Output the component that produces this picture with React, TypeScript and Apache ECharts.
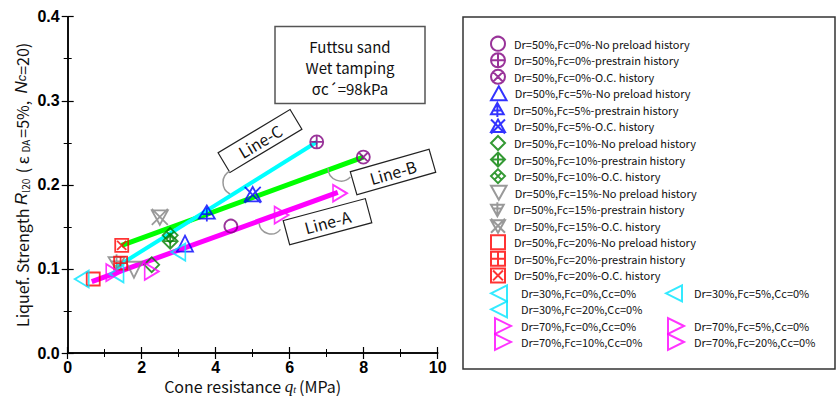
import React, { useEffect, useRef } from "react";
import * as echarts from "echarts";

// ---- data ----
const dr50Names = [
  "Dr=50%,Fc=0%-No preload history",
  "Dr=50%,Fc=0%-prestrain history",
  "Dr=50%,Fc=0%-O.C. history",
  "Dr=50%,Fc=5%-No preload history",
  "Dr=50%,Fc=5%-prestrain history",
  "Dr=50%,Fc=5%-O.C. history",
  "Dr=50%,Fc=10%-No preload history",
  "Dr=50%,Fc=10%-prestrain history",
  "Dr=50%,Fc=10%-O.C. history",
  "Dr=50%,Fc=15%-No preload history",
  "Dr=50%,Fc=15%-prestrain history",
  "Dr=50%,Fc=15%-O.C. history",
  "Dr=50%,Fc=20%-No preload history",
  "Dr=50%,Fc=20%-prestrain history",
  "Dr=50%,Fc=20%-O.C. history",
];
const dr50Qt = [4.41, 6.73, 7.99, 3.17, 3.76, 5.0, 2.27, 2.77, 2.77, 1.79, 1.32, 2.49, 0.69, 1.43, 1.46];
const dr50RL = [0.151, 0.251, 0.233, 0.13, 0.166, 0.188, 0.105, 0.133, 0.14, 0.099, 0.108, 0.162, 0.088, 0.107, 0.128];

const dr30Names = ["Dr=30%,Fc=0%,Cc=0%", "Dr=30%,Fc=5%,Cc=0%", "Dr=30%,Fc=20%,Cc=0%"];
const dr30Qt = [2.99, 1.32, 0.38];
const dr30RL = [0.12, 0.094, 0.088];

const dr70Names = ["Dr=70%,Fc=0%,Cc=0%", "Dr=70%,Fc=5%,Cc=0%", "Dr=70%,Fc=10%,Cc=0%", "Dr=70%,Fc=20%,Cc=0%"];
const dr70Qt = [7.36, 5.78, 2.27, 1.23];
const dr70RL = [0.19, 0.164, 0.097, 0.0955];

// regression lines [[x0, y0], [x1, y1]]
const lineA = [[0.65, 0.085], [7.3, 0.191]];
const lineB = [[1.46, 0.128], [7.99, 0.233]];
const lineC = [[1.3, 0.102], [6.73, 0.251]];

const xMin = 0, xMax = 10, xStep = 2;
const yMin = 0, yMax = 0.4, yStep = 0.1;

// ---- symbols ----
const CIRC = "M-1,0 A1,1 0 1,0 1,0 A1,1 0 1,0 -1,0 Z";
const TRI_UP = "M0,-1 L1,0.8 L-1,0.8 Z";
const TRI_DN = "M0,1 L1,-0.8 L-1,-0.8 Z";
const DIA = "M0,-1 L1,0 L0,1 L-1,0 Z";
const SQ = "M-1,-1 L1,-1 L1,1 L-1,1 Z";
const PLUS = " M-1,0 L1,0 M0,-1 L0,1";
const XCR = " M-0.707,-0.707 L0.707,0.707 M0.707,-0.707 L-0.707,0.707";

const symbols = [
  "circle",
  "path://" + CIRC + PLUS,
  "path://" + CIRC + XCR,
  "path://" + TRI_UP,
  "path://" + TRI_UP + " M0,-1 L0,1.2 M-0.6,0.2 L0.6,0.2",
  "path://" + TRI_UP + " M-1,-1 L1,1 M1,-1 L-1,1",
  "path://" + DIA,
  "path://" + DIA + PLUS,
  "path://" + DIA + " M-0.5,-0.5 L0.5,0.5 M0.5,-0.5 L-0.5,0.5",
  "path://" + TRI_DN,
  "path://" + TRI_DN + " M0,-1.2 L0,1 M-0.6,-0.2 L0.6,-0.2",
  "path://" + TRI_DN + " M-1,-1 L1,1 M1,-1 L-1,1",
  "path://" + SQ,
  "path://" + SQ + PLUS,
  "path://" + SQ + XCR,
];
const colors50 = [
  "#800080", "#800080", "#800080",
  "#0000ff", "#0000ff", "#0000ff",
  "#008000", "#008000", "#008000",
  "#808080", "#808080", "#808080",
  "#ff0000", "#ff0000", "#ff0000",
];
const sizes50 = [13, 13, 13, 16, 16, 16, 15, 15, 15, 16, 16, 16, 13, 13, 13];

const LEFT_TRI = "path://M-1,0 L1,-1 L1,1 Z";
const RIGHT_TRI = "path://M1,0 L-1,-1 L-1,1 Z";

const FONT = "'Noto Sans CJK JP', 'Noto Sans', sans-serif";

export default function App() {
  const ref = useRef<HTMLDivElement>(null);
  useEffect(() => {
    if (!ref.current) return;
    const chart = echarts.init(ref.current, undefined, { renderer: "svg" });

    const scatter: any[] = [];
    dr50Names.forEach((n, i) => {
      scatter.push({
        name: n,
        type: "scatter",
        symbol: symbols[i],
        symbolSize: sizes50[i],
        z: 5,
        itemStyle: { color: "rgba(255,255,255,0)", borderColor: colors50[i], borderWidth: 1.8 },
        data: [[dr50Qt[i], dr50RL[i]]],
      });
    });
    dr30Names.forEach((n, i) => {
      scatter.push({
        name: n,
        type: "scatter",
        symbol: LEFT_TRI,
        symbolSize: [14, 17],
        z: 5,
        itemStyle: { color: "rgba(255,255,255,0)", borderColor: "#00e5ff", borderWidth: 1.8 },
        data: [[dr30Qt[i], dr30RL[i]]],
      });
    });
    dr70Names.forEach((n, i) => {
      scatter.push({
        name: n,
        type: "scatter",
        symbol: RIGHT_TRI,
        symbolSize: [14, 17],
        z: 5,
        itemStyle: { color: "rgba(255,255,255,0)", borderColor: "#ff00ff", borderWidth: 1.8 },
        data: [[dr70Qt[i], dr70RL[i]]],
      });
    });

    const mkLine = (id: string, pts: number[][], color: string, width: number) => ({
      id,
      type: "line",
      data: pts,
      symbol: "none",
      z: 3,
      lineStyle: { color, width, cap: "butt" },
      silent: true,
    });

    const axisCommon = {
      axisLine: { show: true, lineStyle: { color: "#000", width: 1.5 } },
      axisTick: { show: true, inside: true, length: 6, lineStyle: { color: "#000", width: 1.2 } },
      minorTick: { show: true, splitNumber: 2, length: 4, lineStyle: { color: "#000", width: 1 } },
      splitLine: { show: false },
    };
    const tickFont = { fontFamily: "'Liberation Sans', Arial, sans-serif", fontWeight: "bold", fontSize: 16, color: "#000", lineHeight: 16 };
    const legText = { fontFamily: FONT, fontSize: 11, color: "#111", lineHeight: 14 };

    const legendItem = (name: string, iconCx: number, cy: number, textX: number, itemW = 18, itemH = 14) => ({
      data: [name],
      left: iconCx - itemW / 2,
      top: cy - itemH / 2,
      padding: 0,
      orient: "horizontal",
      itemWidth: itemW,
      itemHeight: itemH,
      selectedMode: false,
      textStyle: { ...legText, padding: [0, 0, 0, Math.max(0, textX - (iconCx + itemW / 2 + 5))] },
    });

    const legends: any[] = [];
    dr50Names.forEach((n, i) => legends.push(legendItem(n, 499, 42.7 + i * 16.55, 515)));
    legends.push(legendItem(dr30Names[0], 498, 292.3, 520, 16, 16));
    legends.push(legendItem(dr30Names[1], 673, 292.3, 693, 16, 16));
    legends.push(legendItem(dr30Names[2], 498, 308.3, 520, 16, 16));
    legends.push(legendItem(dr70Names[0], 502, 325, 520, 16, 16));
    legends.push(legendItem(dr70Names[1], 675, 325, 693, 16, 16));
    legends.push(legendItem(dr70Names[2], 502, 341, 520, 16, 16));
    legends.push(legendItem(dr70Names[3], 675, 341, 693, 16, 16));

    const labelBox = (text: string, cx: number, cy: number, w: number, h: number, deg: number) => ({
      type: "group",
      x: cx,
      y: cy,
      rotation: (deg * Math.PI) / 180,
      z: 10,
      children: [
        { type: "rect", shape: { x: -w / 2, y: -h / 2, width: w, height: h }, style: { fill: "#fff", stroke: "#222", lineWidth: 1.2 } },
        { type: "text", x: 0, y: 0, style: { text, fill: "#111", font: `16px ${FONT}`, textAlign: "center", textVerticalAlign: "middle" } },
      ],
    });
    const arc = (cx: number, cy: number, r: number, a0: number, a1: number) => ({
      type: "arc",
      z: 9,
      shape: { cx, cy, r, startAngle: (a0 * Math.PI) / 180, endAngle: (a1 * Math.PI) / 180, clockwise: true },
      style: { stroke: "#999", lineWidth: 1.5, fill: "none" },
    });

    chart.setOption({
      animation: false,
      grid: { left: 67.7, right: 402.3, top: 16.7, bottom: 43, containLabel: false, outerBoundsMode: "none" },
      xAxis: [
        {
          type: "value",
          min: xMin,
          max: xMax,
          interval: xStep,
          position: "bottom",
          ...axisCommon,
          axisLabel: { ...tickFont, margin: 6 },
          name: "{a|Cone resistance }{i|q}{s|t}{a|(MPa)}",
          nameLocation: "middle",
          nameGap: 25,
          nameMoveOverlap: false,
          nameTextStyle: {
            lineHeight: 16,
            rich: {
              a: { fontFamily: FONT, fontSize: 16, color: "#111", lineHeight: 16 },
              i: { fontFamily: "'Liberation Serif', serif", fontStyle: "italic", fontSize: 17, color: "#111", lineHeight: 16 },
              s: { fontFamily: "'Liberation Serif', serif", fontStyle: "italic", fontSize: 10, color: "#111", verticalAlign: "bottom", lineHeight: 12, padding: [0, 3, 0, 0] },
            },
          },
        },
        {
          type: "value",
          min: xMin,
          max: xMax,
          interval: xStep,
          position: "top",
          ...axisCommon,
          axisLabel: { show: false },
        },
      ],
      yAxis: [
        {
          type: "value",
          min: yMin,
          max: yMax,
          interval: yStep,
          position: "left",
          ...axisCommon,
          axisLabel: { ...tickFont, margin: 8, formatter: (v: number) => v.toFixed(1) },
          name: "{a|Liquef. Strength }{i|R}{s|l20}{a| ( ε }{s|DA}{a|=5%,  }{i|N}{si|c}{a|=20)}",
          nameLocation: "middle",
          nameGap: 37,
          nameMoveOverlap: false,
          nameRotate: 90,
          nameTextStyle: {
            lineHeight: 18,
            rich: {
              a: { fontFamily: FONT, fontSize: 16, color: "#111", lineHeight: 18 },
              i: { fontFamily: "'Liberation Sans', sans-serif", fontStyle: "italic", fontSize: 17, color: "#111", lineHeight: 18 },
              s: { fontFamily: FONT, fontSize: 10, color: "#111", verticalAlign: "bottom", lineHeight: 14, padding: [0, 2, 0, 0] },
              si: { fontFamily: "'Liberation Sans', sans-serif", fontStyle: "italic", fontSize: 13, color: "#111", lineHeight: 18 },
            },
          },
        },
        {
          type: "value",
          min: yMin,
          max: yMax,
          interval: yStep,
          position: "right",
          ...axisCommon,
          axisLabel: { show: false },
        },
      ],
      legend: legends,
      graphic: [
        { type: "rect", shape: { x: 463, y: 17, width: 372, height: 352 }, style: { fill: "none", stroke: "#333", lineWidth: 1.5 } },
        { type: "rect", shape: { x: 275, y: 26.5, width: 150, height: 77 }, style: { fill: "#fff", stroke: "#555", lineWidth: 1.5 } },
        { type: "text", x: 350, y: 46, style: { text: "Futtsu sand", font: `15px ${FONT}`, fill: "#111", textAlign: "center", textVerticalAlign: "middle" } },
        { type: "text", x: 350, y: 67, style: { text: "Wet tamping", font: `15px ${FONT}`, fill: "#111", textAlign: "center", textVerticalAlign: "middle" } },
        { type: "text", x: 350, y: 88, style: { text: "σc´=98kPa", font: `15px ${FONT}`, fill: "#111", textAlign: "center", textVerticalAlign: "middle" } },
        arc(236, 182.5, 13, 118, 242),
        arc(341, 168, 13, 44, 179),
        arc(271, 222, 12, 38, 173),
        labelBox("Line-C", 260, 141, 84, 23, 31),
        labelBox("Line-B", 393, 172, 82, 24, 16),
        labelBox("Line-A", 327.5, 221.7, 85, 25, 15),
      ],
      series: [
        mkLine("lineA", lineA, "#ff00ff", 5),
        mkLine("lineB", lineB, "#00ff00", 5),
        mkLine("lineC", lineC, "#00ffff", 4),
        ...scatter,
      ],
    });
    return () => chart.dispose();
  }, []);
  return <div ref={ref} style={{ position: "fixed", left: 0, top: 0, width: 840, height: 396, background: "#fff" }} />;
}
